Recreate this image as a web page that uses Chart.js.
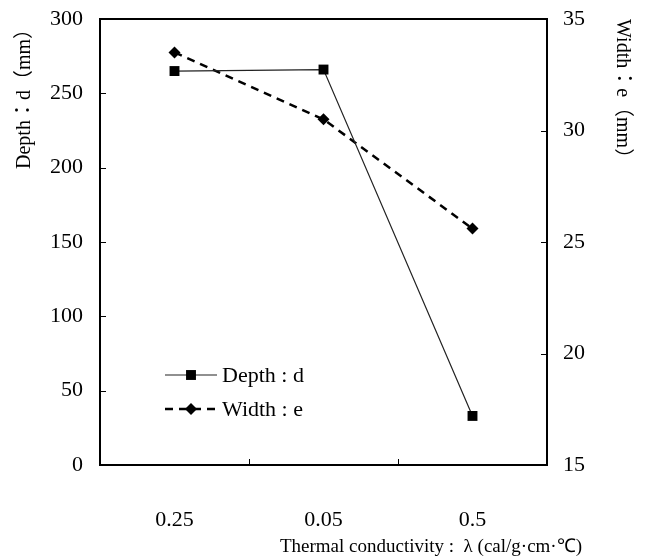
<!DOCTYPE html>
<html>
<head>
<meta charset="utf-8">
<script src="https://cdn.jsdelivr.net/npm/chart.js@4.4.1/dist/chart.umd.min.js"></script>
<style>
  html, body { margin: 0; padding: 0; background: #fff; }
  #wrap { width: 647px; height: 557px; }
</style>
</head>
<body>
<div id="wrap"><canvas id="chart" width="647" height="557"></canvas></div>
<script>
// values
var categories = ["0.25", "0.05", "0.5"];
var depthValues = [265, 266, 33];
var widthValues = [33.5, 30.5, 25.6];
var depthTicks = [0, 50, 100, 150, 200, 250, 300];
var widthTicks = [15, 20, 25, 30, 35];

var serif = "'Liberation Serif', 'Times New Roman', serif";
var ink = "#000";

// box round the plot, inward tick marks, legend and x title
var framePlugin = {
  id: "frame",
  beforeDatasetsDraw: function (chart) {
    var ctx = chart.ctx;
    var a = chart.chartArea;
    var x = chart.scales.x, yL = chart.scales.y, yR = chart.scales.y1;
    ctx.save();
    ctx.strokeStyle = ink;
    ctx.lineWidth = 2;
    ctx.strokeRect(a.left, a.top, a.right - a.left, a.bottom - a.top);

    ctx.lineWidth = 1;
    ctx.beginPath();
    // x ticks sit between categories
    for (var i = 1; i < categories.length; i++) {
      var px = Math.round((x.getPixelForTick(i - 1) + x.getPixelForTick(i)) / 2) + 0.5;
      ctx.moveTo(px, a.bottom);
      ctx.lineTo(px, a.bottom - 6);
    }
    depthTicks.forEach(function (v) {
      var py = Math.round(yL.getPixelForValue(v)) + 0.5;
      ctx.moveTo(a.left, py);
      ctx.lineTo(a.left + 6, py);
    });
    widthTicks.forEach(function (v) {
      var py = Math.round(yR.getPixelForValue(v)) + 0.5;
      ctx.moveTo(a.right, py);
      ctx.lineTo(a.right - 6, py);
    });
    ctx.stroke();
    ctx.restore();
  },
  afterDraw: function (chart) {
    var ctx = chart.ctx;
    var a = chart.chartArea;
    ctx.save();

    // legend inside the plot, lower left
    chart.data.datasets.forEach(function (ds, i) {
      var ly = a.bottom - 90 + i * 34;
      var x0 = a.left + 65, x1 = a.left + 117;
      ctx.strokeStyle = ds.borderColor;
      ctx.lineWidth = ds.borderWidth;
      ctx.setLineDash(ds.borderDash || []);
      ctx.beginPath();
      ctx.moveTo(x0, ly);
      ctx.lineTo(x1, ly);
      ctx.stroke();
      ctx.setLineDash([]);
      ctx.fillStyle = ds.pointBackgroundColor;
      var cx = (x0 + x1) / 2;
      var r = ds.pointRadius;
      ctx.beginPath();
      if (ds.pointStyle === "rect") {
        var s = r * Math.SQRT1_2;
        ctx.rect(cx - s, ly - s, 2 * s, 2 * s);
      } else {
        ctx.moveTo(cx, ly - r);
        ctx.lineTo(cx + r, ly);
        ctx.lineTo(cx, ly + r);
        ctx.lineTo(cx - r, ly);
        ctx.closePath();
      }
      ctx.fill();
      ctx.fillStyle = ink;
      ctx.font = "22px " + serif;
      ctx.textAlign = "left";
      ctx.textBaseline = "middle";
      ctx.fillText(ds.label, x1 + 5, ly + 1);
    });

    // x axis title, right aligned past the plot edge
    ctx.font = "19px " + serif;
    ctx.fillStyle = ink;
    ctx.textAlign = "right";
    ctx.textBaseline = "middle";
    ctx.fillText("Thermal conductivity :  \u03bb (cal/g\u00b7cm\u00b7\u2103)", a.right + 35, 547);
    ctx.restore();
  },
};

var tickFont = { family: serif, size: 22 };
var titleFont = { family: serif + ", 'Noto Sans CJK JP'", size: 20 };

// fixed side widths, no extra room for the end labels
function fixSide(s) {
  s.width = 100;
  s.paddingTop = 0;
  s.paddingBottom = 0;
}

new Chart(document.getElementById("chart"), {
  type: "line",
  data: {
    labels: categories,
    datasets: [
      {
        label: "Depth : d",
        data: depthValues,
        yAxisID: "y",
        borderColor: "#222",
        borderWidth: 1.2,
        pointStyle: "rect",
        pointRadius: 7,
        pointBackgroundColor: "#000",
        pointBorderColor: "#000",
        pointBorderWidth: 0,
      },
      {
        label: "Width : e",
        data: widthValues,
        yAxisID: "y1",
        borderColor: "#000",
        borderWidth: 2.5,
        borderDash: [8, 6],
        pointStyle: "rectRot",
        pointRadius: 6,
        pointBackgroundColor: "#000",
        pointBorderColor: "#000",
        pointBorderWidth: 0,
      },
    ],
  },
  options: {
    responsive: false,
    animation: false,
    layout: { padding: { top: 19, left: 0, right: 0, bottom: 0 } },
    plugins: {
      legend: { display: false },
      tooltip: { enabled: false },
    },
    scales: {
      x: {
        offset: true,
        grid: { display: false, drawTicks: false },
        border: { display: false },
        ticks: { color: ink, font: tickFont, padding: 42 },
        afterFit: function (s) {
          s.height = 92;
          s.paddingLeft = 0;
          s.paddingRight = 0;
        },
      },
      y: {
        position: "left",
        min: 0,
        max: 300,
        grid: { display: false, drawTicks: false },
        border: { display: false },
        ticks: { stepSize: 50, color: ink, font: tickFont, padding: 17 },
        title: {
          display: true,
          text: "Depth\uff1ad\uff08mm\uff09",
          align: "end",
          color: ink,
          font: titleFont,
          padding: { top: 13, bottom: 0 },
        },
        afterFit: fixSide,
      },
      y1: {
        position: "right",
        min: 15,
        max: 35,
        grid: { display: false, drawTicks: false },
        border: { display: false },
        ticks: { stepSize: 5, color: ink, font: tickFont, padding: 16 },
        title: {
          display: true,
          text: "Width\uff1ae\uff08mm\uff09",
          align: "end",
          color: ink,
          font: titleFont,
          padding: { top: 13, bottom: 0 },
        },
        afterFit: fixSide,
      },
    },
  },
  plugins: [framePlugin],
});
</script>
</body>
</html>
